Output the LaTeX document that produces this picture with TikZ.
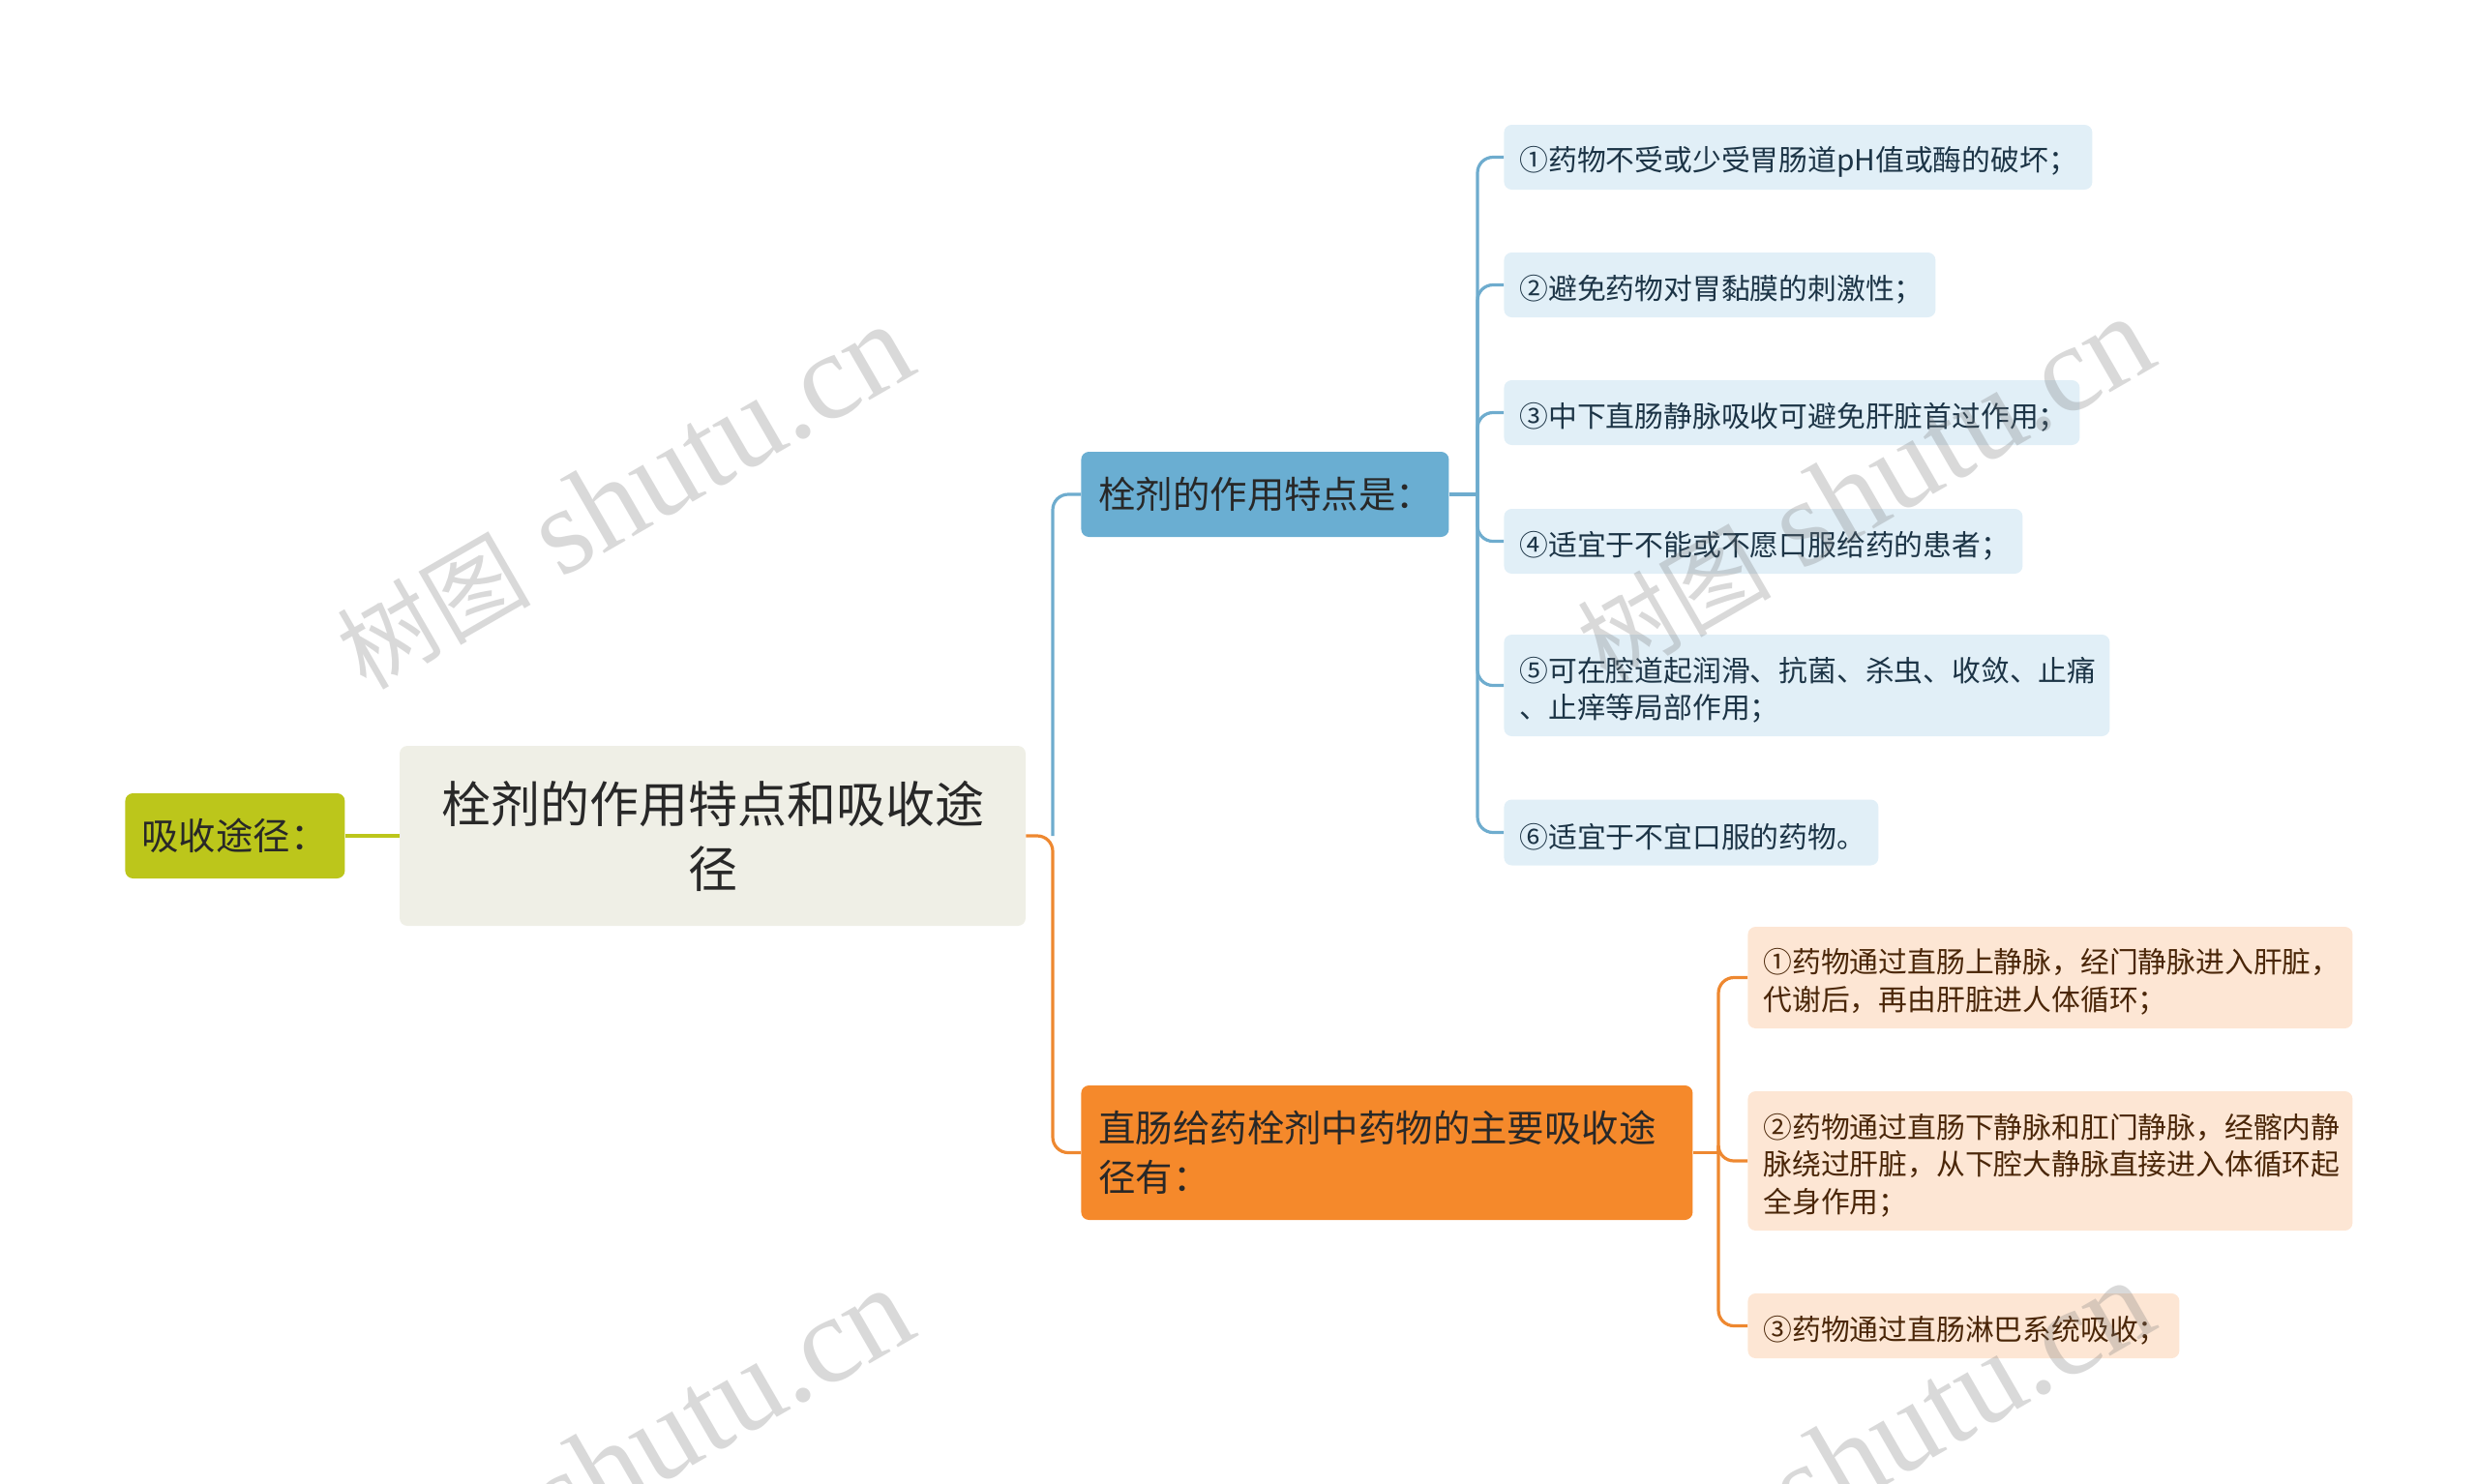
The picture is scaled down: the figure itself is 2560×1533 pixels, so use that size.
\documentclass[tikz,border=0pt]{standalone}
\usepackage{fontspec}
\newfontfamily\cjk{Noto Sans CJK SC}
\newfontfamily\wmlat{Liberation Serif}
\definecolor{olivefill}{RGB}{188,198,27}
\definecolor{centerfill}{RGB}{239,239,230}
\definecolor{bluefill}{RGB}{106,174,210}
\definecolor{blueleaf}{RGB}{225,239,247}
\definecolor{blueline}{RGB}{110,172,206}
\definecolor{orangefill}{RGB}{245,137,43}
\definecolor{orangeleaf}{RGB}{253,230,212}
\definecolor{orangeline}{RGB}{238,136,48}
\definecolor{olivelinec}{RGB}{188,198,27}
\definecolor{darktext}{RGB}{40,40,40}
\definecolor{bluetext}{RGB}{28,52,70}
\definecolor{browntext}{RGB}{74,38,8}
\definecolor{wmgray}{RGB}{120,120,120}
\newcommand{\leafstrut}{\rule{0pt}{17pt}}
\tikzset{
  box/.style={rectangle, rounded corners=4pt, inner ysep=0pt, font=\cjk},
  leafbase/.style={box, anchor=west, align=left, inner xsep=8pt},
  bleaf/.style={leafbase, fill=blueleaf, text=bluetext,
     font=\cjk\fontsize{14.9}{19}\selectfont},
  oleaf/.style={leafbase, fill=orangeleaf, text=browntext,
     font=\cjk\fontsize{14.9}{19.2}\selectfont},
  bline/.style={draw=blueline, line width=1.6pt, rounded corners=8pt},
  oline/.style={draw=orangeline, line width=1.6pt, rounded corners=8pt},
  gline/.style={draw=olivelinec, line width=1.6pt},
  wmark/.style={text=wmgray, text opacity=0.28, rotate=30, inner sep=0pt},
}
\newcommand{\wmtext}{{\cjk\fontsize{50}{54}\selectfont 树图}\hspace{16pt}{\wmlat\fontsize{64}{66}\selectfont shutu.cn}}
\begin{document}
\begin{tikzpicture}[x=0.5pt,y=-0.5pt]
\useasboundingbox (0,0) rectangle (2560,1533);
% main nodes
\node[box, fill=olivefill, text=darktext, anchor=west, minimum width=113.5pt, minimum height=44pt,
      text width=96.5pt, inner xsep=8.5pt, align=left, font=\cjk\fontsize{19.2}{22}\selectfont]
      (abs) at (129,864) {\mbox{吸收途径：}};
\node[box, fill=centerfill, text=darktext, minimum width=323.5pt, minimum height=93pt,
      align=center, font=\cjk\fontsize{25.5}{33.5}\selectfont] (ctr) at (736.5,864)
      {栓剂的作用特点和吸收途\\径};
\node[box, fill=bluefill, text=darktext, anchor=west, minimum width=190pt, minimum height=44pt,
      text width=172pt, inner xsep=9pt, align=left, font=\cjk\fontsize{19.2}{22}\selectfont]
      (feat) at (1117,511) {\mbox{栓剂的作用特点是：}};
\node[box, fill=orangefill, text=darktext, anchor=west, minimum width=316pt, minimum height=69.5pt,
      text width=298pt, inner xsep=9pt, align=left, font=\cjk\fontsize{19.2}{25.3}\selectfont]
      (route) at (1117,1191.5) {\mbox{直肠给药栓剂中药物的主要吸收途}\\径有：};
% blue leaves
\node[bleaf, minimum width=304pt, minimum height=33.5pt, text width=288pt] (b1) at (1554,162.5)
  {\leafstrut\mbox{①药物不受或少受胃肠道pH值或酶的破坏；}};
\node[bleaf, minimum width=223pt, minimum height=33.5pt, text width=207pt] (b2) at (1554,294.5)
  {\leafstrut\mbox{②避免药物对胃黏膜的刺激性；}};
\node[bleaf, minimum width=297.5pt, minimum height=33.5pt, text width=281.5pt] (b3) at (1554,426.5)
  {\leafstrut\mbox{③中下直肠静脉吸收可避免肝脏首过作用；}};
\node[bleaf, minimum width=268pt, minimum height=33.5pt, text width=252pt] (b4) at (1554,559.5)
  {\leafstrut\mbox{④适宜于不能或不愿口服给药的患者；}};
\node[bleaf, minimum width=313pt, minimum height=52.5pt, text width=297pt] (b5) at (1554,708.5)
  {\leafstrut\mbox{⑤可在腔道起润滑、抗菌、杀虫、收敛、止痛}\\、止痒等局部作用；};
\node[bleaf, minimum width=193.5pt, minimum height=34pt, text width=177.5pt] (b6) at (1554,860.5)
  {\leafstrut\mbox{⑥适宜于不宜口服的药物。}};
% orange leaves
\node[oleaf, minimum width=312.5pt, minimum height=52.5pt, text width=296.5pt] (o1) at (1806,1010.5)
  {\leafstrut\mbox{①药物通过直肠上静脉，经门静脉进入肝脏，}\\\mbox{代谢后，再由肝脏进人体循环；}};
\node[oleaf, minimum width=312.5pt, minimum height=72pt, text width=296.5pt] (o2) at (1806,1200)
  {\leafstrut\mbox{②药物通过直肠下静脉和肛门静脉，经髂内静}\\\mbox{脉绕过肝脏，从下腔大静脉直接进入体循环起}\\全身作用；};
\node[oleaf, minimum width=223pt, minimum height=33.5pt, text width=207pt] (o3) at (1806,1370.5)
  {\leafstrut\mbox{③药物通过直肠淋巴系统吸收；}};
% junctions
\coordinate (j1) at (1088,864);
\coordinate (j2) at (1527,511);
\coordinate (j3) at (1776,1191.5);
% connectors
\draw[gline] (abs.east) -- (ctr.west);
\draw[oline] (ctr.east) -- (j1) |- (route.west);
\draw[bline] (j1) |- (feat.west);
\draw[bline] (feat.east) -- (j2);
\foreach \n in {b1,b2,b3,b4,b5,b6} \draw[bline] (j2) |- (\n.west);
\draw[oline] (route.east) -- (j3);
\foreach \n in {o1,o2,o3} \draw[oline] (j3) |- (\n.west);
% watermarks (on top, translucent)
\node[wmark] (wm1) at (645,514) {\wmtext};
\node[wmark] (wm2) at (1927,506) {\wmtext};
\node[wmark] (wm3) at (645,1510) {\wmtext};
\node[wmark] (wm4) at (1927,1502) {\wmtext};
\end{tikzpicture}
\end{document}
